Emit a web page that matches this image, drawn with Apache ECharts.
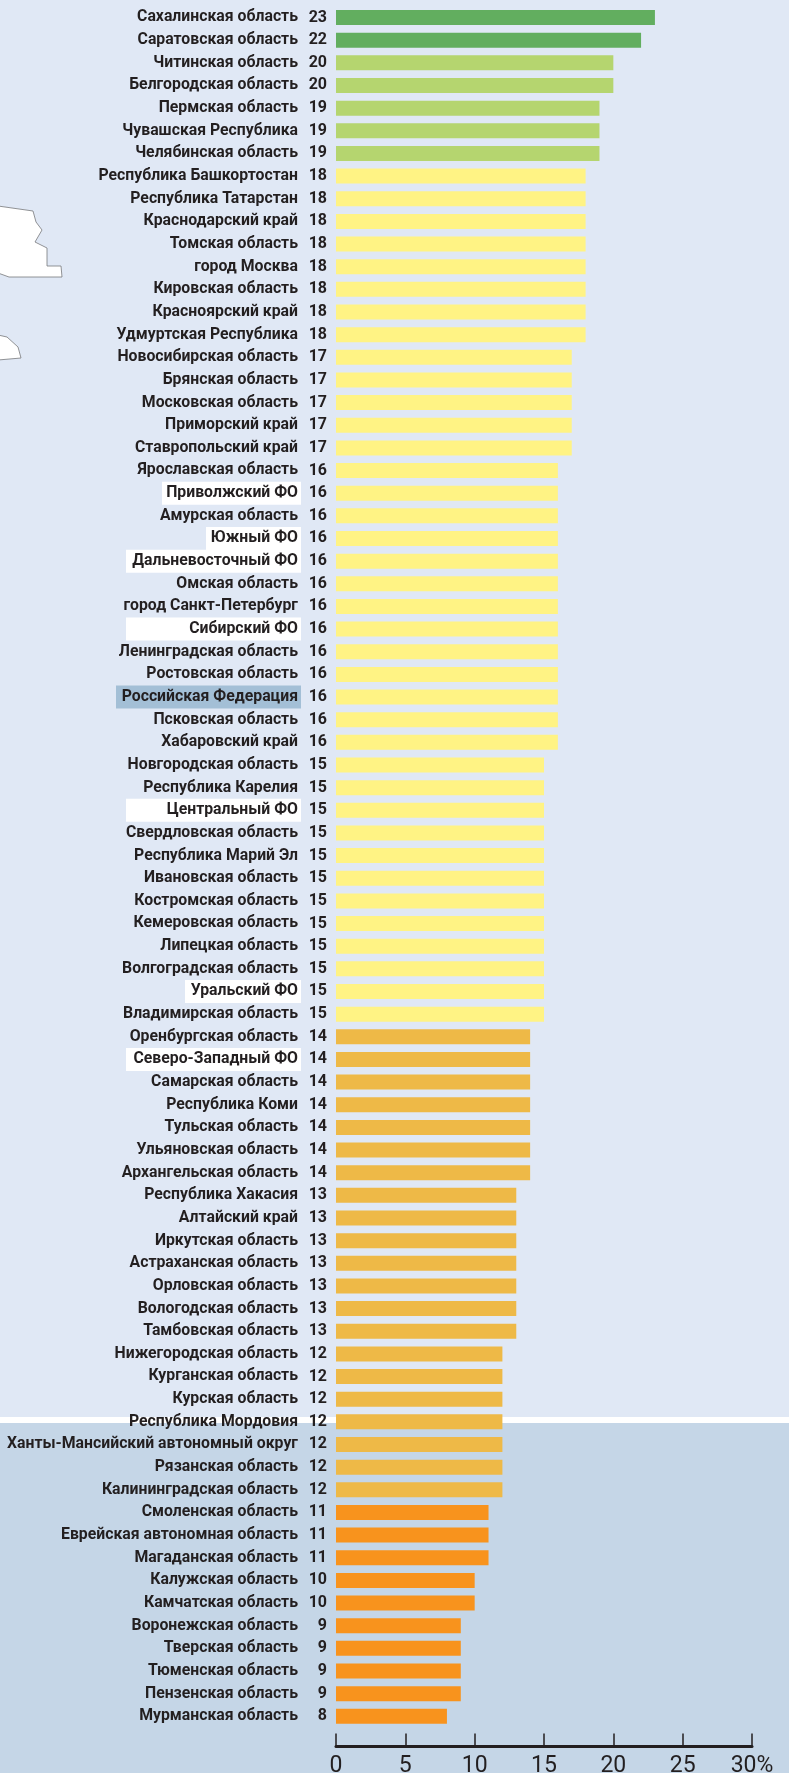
<!DOCTYPE html>
<html>
<head>
<meta charset="utf-8">
<style>
  html, body { margin: 0; padding: 0; background: #e0e8f5; }
  #chart { width: 789px; height: 1773px; }
</style>
<script src="https://cdn.jsdelivr.net/npm/echarts@6/dist/echarts.min.js"></script>
</head>
<body>
<div id="chart"></div>
<script>
var categories = [
  'Сахалинская область', 'Саратовская область', 'Читинская область', 'Белгородская область',
  'Пермская область', 'Чувашская Республика', 'Челябинская область', 'Республика Башкортостан',
  'Республика Татарстан', 'Краснодарский край', 'Томская область', 'город Москва',
  'Кировская область', 'Красноярский край', 'Удмуртская Республика', 'Новосибирская область',
  'Брянская область', 'Московская область', 'Приморский край', 'Ставропольский край',
  'Ярославская область', 'Приволжский ФО', 'Амурская область', 'Южный ФО',
  'Дальневосточный ФО', 'Омская область', 'город Санкт-Петербург', 'Сибирский ФО',
  'Ленинградская область', 'Ростовская область', 'Российская Федерация', 'Псковская область',
  'Хабаровский край', 'Новгородская область', 'Республика Карелия', 'Центральный ФО',
  'Свердловская область', 'Республика Марий Эл', 'Ивановская область', 'Костромская область',
  'Кемеровская область', 'Липецкая область', 'Волгоградская область', 'Уральский ФО',
  'Владимирская область', 'Оренбургская область', 'Северо-Западный ФО', 'Самарская область',
  'Республика Коми', 'Тульская область', 'Ульяновская область', 'Архангельская область',
  'Республика Хакасия', 'Алтайский край', 'Иркутская область', 'Астраханская область',
  'Орловская область', 'Вологодская область', 'Тамбовская область', 'Нижегородская область',
  'Курганская область', 'Курская область', 'Республика Мордовия', 'Ханты-Мансийский автономный округ',
  'Рязанская область', 'Калининградская область', 'Смоленская область', 'Еврейская автономная область',
  'Магаданская область', 'Калужская область', 'Камчатская область', 'Воронежская область',
  'Тверская область', 'Тюменская область', 'Пензенская область', 'Мурманская область'
];
var values = [
  23, 22, 20, 20, 19, 19, 19, 18, 18, 18, 18, 18, 18, 18, 18, 17, 17, 17, 17, 17,
  16, 16, 16, 16, 16, 16, 16, 16, 16, 16, 16, 16, 16,
  15, 15, 15, 15, 15, 15, 15, 15, 15, 15, 15, 15,
  14, 14, 14, 14, 14, 14, 14, 13, 13, 13, 13, 13, 13, 13,
  12, 12, 12, 12, 12, 12, 12, 11, 11, 11, 10, 10, 9, 9, 9, 9, 8
];
var xTickLabels = ['0', '5', '10', '15', '20', '25', '30%'];

var textColor = '#231f20';
var fontName = 'Roboto, "Liberation Sans", sans-serif';
var nameSize = 15.8;

function barColor(v) {
  if (v >= 22) return '#62ae5f';
  if (v >= 19) return '#b5d56f';
  if (v >= 15) return '#fff384';
  if (v >= 12) return '#eeb947';
  return '#f8931d';
}

// подложки под подписями округов и РФ
function box(w, color) {
  return {
    width: w, height: 23, lineHeight: 23, align: 'right', verticalAlign: 'middle',
    backgroundColor: color, padding: [0, 3, 0, 0],
    color: textColor, fontFamily: fontName, fontSize: nameSize, fontWeight: 'bold'
  };
}
var boxNames = {
  'Приволжский ФО': 'a',
  'Южный ФО': 'b',
  'Дальневосточный ФО': 'c',
  'Сибирский ФО': 'c',
  'Центральный ФО': 'c',
  'Северо-Западный ФО': 'c',
  'Уральский ФО': 'd',
  'Российская Федерация': 'e'
};

var chart = echarts.init(document.getElementById('chart'));
chart.setOption({
  animation: false,
  backgroundColor: 'transparent',
  graphic: [
    { type: 'rect', z: -10, silent: true, shape: { x: 0, y: 0, width: 789, height: 1417 }, style: { fill: '#e0e8f5' } },
    { type: 'rect', z: -10, silent: true, shape: { x: 0, y: 1417, width: 789, height: 6 }, style: { fill: '#ffffff' } },
    { type: 'rect', z: -10, silent: true, shape: { x: 0, y: 1423, width: 789, height: 350 }, style: { fill: '#c5d6e7' } },
    { type: 'polygon', z: -9, silent: true,
      shape: { points: [[-2, 206], [33, 211], [36, 222], [42, 230], [35, 242], [47, 248], [47, 266], [61, 266], [62, 277], [9, 277], [-2, 273]] },
      style: { fill: '#ffffff', stroke: '#77787b', lineWidth: 0.8 } },
    { type: 'polygon', z: -9, silent: true,
      shape: { points: [[-2, 335], [7, 337], [18, 347], [21, 358], [-2, 360]] },
      style: { fill: '#ffffff', stroke: '#77787b', lineWidth: 0.8 } }
  ],
  grid: { left: 336, top: 6.2, width: 416, height: 1721.4, containLabel: false, outerBoundsMode: 'none' },
  xAxis: {
    type: 'value',
    min: 0,
    max: 30,
    interval: 5,
    position: 'bottom',
    offset: 19,
    splitLine: { show: false },
    axisLine: { show: true, lineStyle: { color: textColor, width: 3 } },
    axisTick: { show: true, inside: true, length: 13, lineStyle: { color: textColor, width: 1.5 } },
    axisLabel: {
      color: textColor,
      fontFamily: fontName,
      fontSize: 23,
      margin: 8,
      hideOverlap: false,
      formatter: function (v) { return xTickLabels[v / 5]; }
    }
  },
  yAxis: {
    type: 'category',
    inverse: true,
    data: categories,
    axisLine: { show: false },
    axisTick: { show: false },
    axisLabel: {
      interval: 0,
      margin: 35,
      color: textColor,
      fontFamily: fontName,
      fontSize: nameSize,
      fontWeight: 'bold',
      align: 'right',
      formatter: function (name) {
        return boxNames[name] ? '{' + boxNames[name] + '|' + name + '}' : '{n|' + name + '}';
      },
      rich: {
        n: { padding: [0, 3, 0, 0], color: textColor, fontFamily: fontName, fontSize: nameSize, fontWeight: 'bold' },
        a: box(136, '#ffffff'),
        b: box(92, '#ffffff'),
        c: box(172, '#ffffff'),
        d: box(113, '#ffffff'),
        e: box(182, '#a3bfd6')
      }
    }
  },
  series: [{
    type: 'bar',
    data: values,
    barWidth: 15,
    itemStyle: {
      color: function (p) { return barColor(p.value); }
    },
    label: {
      show: true,
      position: 'left',
      distance: 9,
      color: textColor,
      fontFamily: fontName,
      fontSize: 16,
      fontWeight: 'bold'
    }
  }]
});
</script>
</body>
</html>
